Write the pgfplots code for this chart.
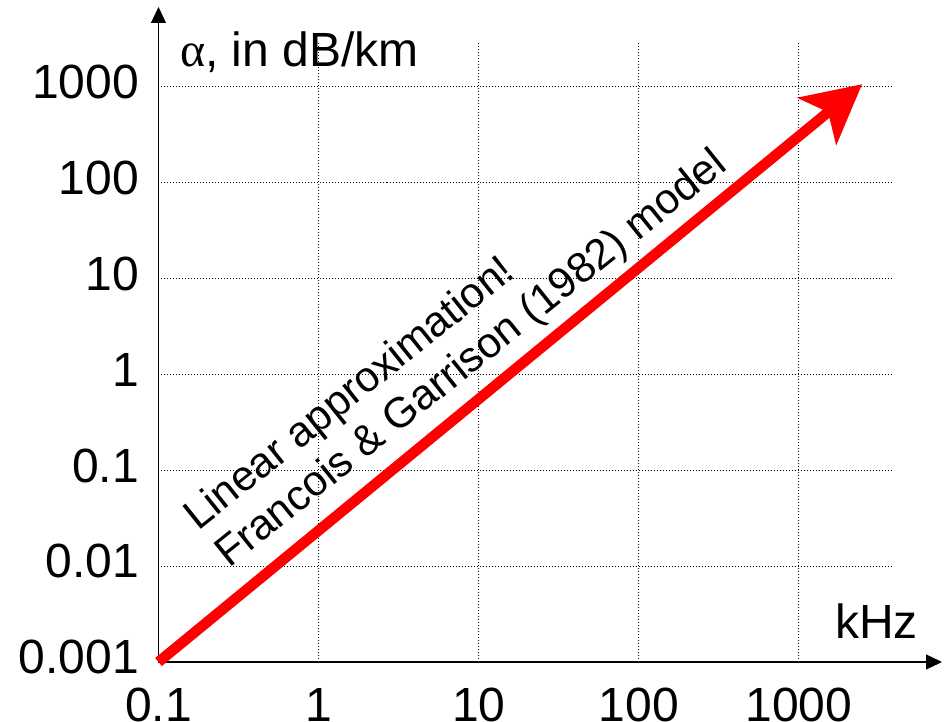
\documentclass[border=0pt]{standalone}
\usepackage{fontspec}
\setmainfont{Liberation Sans}
\newfontfamily\seriffont{Liberation Serif}
\usepackage{pgfplots}
\pgfplotsset{compat=1.18}
\usetikzlibrary{arrows.meta}
\begin{document}
\begin{tikzpicture}
\begin{loglogaxis}[
  scale only axis,
  width=733.5pt, height=621pt,
  xmin=0.1, xmax=3811,
  ymin=0.001, ymax=2992,
  axis lines=left,
  axis line style={line width=1.2pt, black},
  x axis line style={-{Triangle[length=16pt,width=15pt]}, shorten >=-50pt},
  y axis line style={-{Triangle[length=16pt,width=15pt]}, shorten >=-34pt},
  xtick={0.1,1,10,100,1000},
  xticklabels={0.1,1,10,100,1000},
  ytick={0.001,0.01,0.1,1,10,100,1000},
  yticklabels={0.001,0.01,0.1,1,10,100,1000},
  minor tick num=0,
  major tick length=0pt,
  minor tick length=0pt,
  xminorticks=false, yminorticks=false,
  grid=major,
  major grid style={black, line width=1pt, dash pattern=on 1pt off 2pt},
  tick label style={font=\fontsize{48}{52}\selectfont, inner sep=0pt},
  xticklabel style={anchor=north, yshift=-26pt},
  yticklabel style={anchor=east, xshift=-19.5pt, yshift=4.7pt},
  every axis x label/.style={at={(rel axis cs:1,0)}, anchor=base west, inner sep=0pt, xshift=-57pt, yshift=24pt, font=\fontsize{48}{52}\selectfont},
  every axis y label/.style={at={(rel axis cs:0,1)}, anchor=base west, inner sep=0pt, xshift=21.5pt, yshift=-26pt, font=\fontsize{48}{52}\selectfont},
  xlabel={kHz},
  ylabel={{\seriffont α}, in dB/km},
  clip=false,
]
\addplot[color=red, line width=10.5pt, -{Stealth[length=58pt, width=60pt, inset=14pt]}] coordinates {(0.1,0.001) (2480,1060)};
\node[rotate=38.7, anchor=base west, inner sep=0pt, font=\fontsize{42.5}{46}\selectfont] at (axis cs:0.1764,0.02302) {Linear approximation!};
\node[rotate=38.7, anchor=base west, inner sep=0pt, font=\fontsize{42.5}{46}\selectfont] at (axis cs:0.2756,0.00933) {Francois \& Garrison (1982) model};
\coordinate (O) at (rel axis cs:0,0);
\end{loglogaxis}
\pgfresetboundingbox
\path ([shift={(-158.5pt,-60pt)}]O) rectangle ([shift={(785.5pt,662pt)}]O);
\end{tikzpicture}
\end{document}
